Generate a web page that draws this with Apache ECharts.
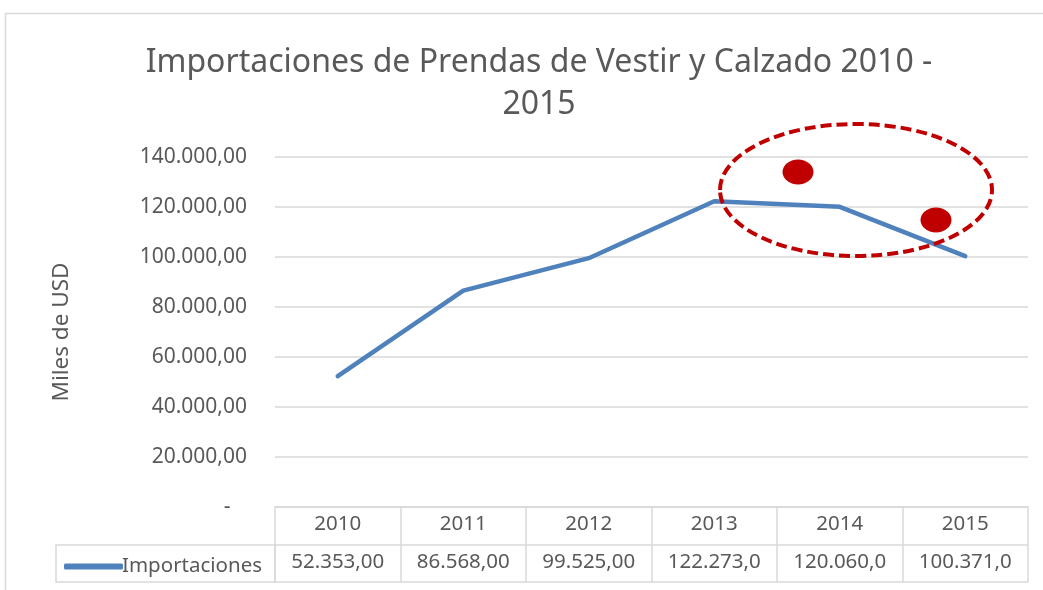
<!DOCTYPE html>
<html>
<head>
<meta charset="utf-8">
<script src="https://cdn.jsdelivr.net/npm/echarts@6/dist/echarts.min.js"></script>
<style>
  html, body { margin: 0; background: #fff; }
  #chart { width: 1043px; height: 590px; }
</style>
</head>
<body>
<div id="chart"></div>
<script>
// data
const years = ["2010", "2011", "2012", "2013", "2014", "2015"];
const importaciones = [52353, 86568, 99525, 122273, 120060, 100371];
const yMin = 0;
const yMax = 140000;
const yStep = 20000;

const FONT = "'Noto Sans', 'Open Sans', sans-serif";
const GREY = "#595959";
const RULE = "#d9d9d9";

// 140000 -> "140.000,00"
function fmtNum(v) {
  const [i, d] = v.toFixed(2).split(".");
  return i.replace(/\B(?=(\d{3})+(?!\d))/g, ".") + "," + d;
}
// Excel clips the cell text to the column width
const cellText = years.map((_, i) => fmtNum(importaciones[i]).slice(0, 9));

const chart = echarts.init(document.getElementById("chart"));

chart.setOption({
  backgroundColor: "#fff",
  animation: false,
  textStyle: { fontFamily: FONT },
  title: {
    text: "Importaciones de Prendas de Vestir y Calzado 2010 -\n2015",
    left: 534,
    top: 37,
    textAlign: "center",
    textStyle: { fontFamily: FONT, fontSize: 32, fontWeight: "normal", color: GREY, lineHeight: 42 },
  },
  grid: { left: 275, right: 15, top: 157, bottom: 83, containLabel: false },
  legend: {
    left: 59,
    top: 551,
    icon: "roundRect",
    itemWidth: 59,
    itemHeight: 6,
    itemGap: 0,
    textStyle: { fontFamily: FONT, fontSize: 20.5, color: GREY, padding: [0, 0, 0, -6] },
    data: ["Importaciones"],
  },
  xAxis: [
    {
      type: "category",
      data: years,
      axisLine: { lineStyle: { color: RULE, width: 1.5 } },
      axisTick: { show: true, length: 75, lineStyle: { color: RULE, width: 1.5 } },
      axisLabel: { color: GREY, fontSize: 20.5, margin: 7, fontFamily: FONT },
      splitLine: { show: false },
    },
    {
      // value row of the data table
      type: "category",
      data: cellText,
      position: "bottom",
      offset: 38,
      axisLine: { lineStyle: { color: RULE, width: 1.5 } },
      axisTick: { show: false },
      axisLabel: { color: GREY, fontSize: 20.5, margin: 7, fontFamily: FONT },
    },
    {
      // bottom edge of the table
      type: "category",
      data: years,
      position: "bottom",
      offset: 75,
      axisLine: { lineStyle: { color: RULE, width: 1.5 } },
      axisTick: { show: false },
      axisLabel: { show: false },
    },
  ],
  yAxis: {
    type: "value",
    min: yMin,
    max: yMax,
    interval: yStep,
    name: "Miles de USD",
    nameLocation: "middle",
    nameGap: 202,
    nameTextStyle: { color: GREY, fontSize: 22.5, fontFamily: FONT },
    axisLine: { show: false },
    axisTick: { show: false },
    axisLabel: {
      color: GREY,
      fontSize: 21,
      margin: 28,
      fontFamily: FONT,
      formatter: (v) => (v === 0 ? "-   " : fmtNum(v)),
    },
    splitLine: { lineStyle: { color: RULE, width: 1.5 } },
  },
  series: [
    {
      name: "Importaciones",
      type: "line",
      data: importaciones,
      symbol: "none",
      lineStyle: { color: "#4f81bd", width: 4.5, cap: "round", join: "round" },
      itemStyle: { color: "#4f81bd" },
    },
  ],
  graphic: [
    // chart area frame
    {
      type: "rect", silent: true, z: -10,
      shape: { x: 5.5, y: 13.5, width: 1100, height: 700 },
      style: { fill: "none", stroke: RULE, lineWidth: 1.5 },
    },
    // legend key cell of the table
    {
      type: "rect", silent: true,
      shape: { x: 56, y: 545, width: 219, height: 37 },
      style: { fill: "none", stroke: RULE, lineWidth: 1.5 },
    },
    // hand-drawn annotation: dashed ellipse and two dots
    {
      type: "ellipse", silent: true, z: 100,
      shape: { cx: 856, cy: 190, rx: 136, ry: 66 },
      style: { fill: "none", stroke: "#c00000", lineWidth: 4, lineDash: [11, 5] },
    },
    {
      type: "ellipse", silent: true, z: 100,
      shape: { cx: 798, cy: 172, rx: 15.5, ry: 12.5 },
      style: { fill: "#c00000" },
    },
    {
      type: "ellipse", silent: true, z: 100,
      shape: { cx: 936, cy: 220, rx: 15.5, ry: 12.5 },
      style: { fill: "#c00000" },
    },
  ],
});
</script>
</body>
</html>
